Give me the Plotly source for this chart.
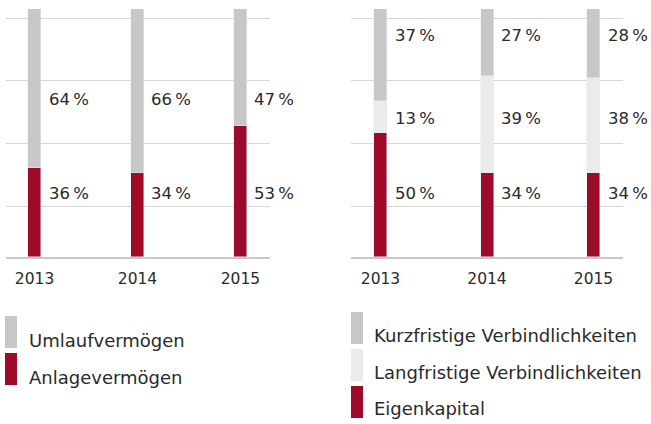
import plotly.graph_objects as go

W, H = 651, 424

years = ["2013", "2014", "2015"]

# Left panel (Aktiva)
anlage = [36, 34, 53]
umlauf = [64, 66, 47]
left_names = ["Umlaufvermögen", "Anlagevermögen"]

# Right panel (Passiva)
eigen = [50, 34, 34]
lang = [13, 39, 38]
kurz = [37, 27, 28]
right_names = ["Kurzfristige Verbindlichkeiten", "Langfristige Verbindlichkeiten", "Eigenkapital"]

RED = "#9E0A29"
GRAY = "#C6C7C6"
LIGHT = "#EBEBEB"
TXT = "#2a2a2a"
FONT = "DejaVu Sans"

fig = go.Figure()

# left bars
fig.add_trace(go.Bar(x=years, y=anlage, marker_color=RED, width=0.126, xaxis="x", yaxis="y", hoverinfo="skip"))
fig.add_trace(go.Bar(x=years, y=umlauf, marker_color=GRAY, width=0.126, xaxis="x", yaxis="y", hoverinfo="skip"))
# right bars
fig.add_trace(go.Bar(x=years, y=eigen, marker_color=RED, width=0.122, xaxis="x2", yaxis="y2", hoverinfo="skip"))
fig.add_trace(go.Bar(x=years, y=lang, marker_color=LIGHT, width=0.122, xaxis="x2", yaxis="y2", hoverinfo="skip"))
fig.add_trace(go.Bar(x=years, y=kurz, marker_color=GRAY, width=0.122, xaxis="x2", yaxis="y2", hoverinfo="skip"))

annotations = []
def add_labels(values, yrow, xref, yref):
    for i, v in enumerate(values):
        annotations.append(dict(
            x=i, y=yrow, xref=xref, yref=yref, text=f"{v}\u2009%",
            showarrow=False, xanchor="left", yanchor="middle", xshift=12,
            font=dict(family=FONT, size=16.5, color=TXT)))

add_labels(umlauf, 63.7, "x", "y")
add_labels(anlage, 25.8, "x", "y")
add_labels(kurz, 89.5, "x2", "y2")
add_labels(lang, 56.0, "x2", "y2")
add_labels(eigen, 25.8, "x2", "y2")

# custom legends
shapes = []
def legend_item(name, color, x0, y0, y1, tx, ty):
    shapes.append(dict(type="rect", xref="paper", yref="paper",
                       x0=x0 / W, x1=(x0 + 12) / W, y0=1 - y1 / H, y1=1 - y0 / H,
                       fillcolor=color, line=dict(width=0), layer="above"))
    annotations.append(dict(x=tx / W, y=1 - ty / H, xref="paper", yref="paper", text=name,
                            showarrow=False, xanchor="left", yanchor="middle",
                            font=dict(family=FONT, size=18, color=TXT)))

legend_item(left_names[0], GRAY, 5, 316, 348, 27, 340)
legend_item(left_names[1], RED, 5, 353, 385, 27, 377)
legend_item(right_names[0], GRAY, 351, 312, 344, 372, 335)
legend_item(right_names[1], LIGHT, 351, 349, 381, 372, 372)
legend_item(right_names[2], RED, 351, 386, 418, 372, 408)

ydom = [1 - 257 / H, 1 - 9 / H]
grid_vals = [20.2, 45.6, 71.0, 96.0]

xcommon = dict(type="category", showline=True, linecolor="#C8C8C8", linewidth=2,
               ticks="", showgrid=False, zeroline=False, ticklabelstandoff=6,
               tickfont=dict(family=FONT, size=15.5, color=TXT), fixedrange=True)
ycommon = dict(domain=ydom, range=[0, 100], tickvals=grid_vals, showticklabels=False,
               showgrid=True, gridcolor="#D6D6D6", gridwidth=1, zeroline=False, fixedrange=True)

fig.update_layout(
    width=W, height=H,
    margin=dict(l=0, r=0, t=0, b=0),
    paper_bgcolor="white", plot_bgcolor="white",
    barmode="stack", bargap=0, showlegend=False,
    xaxis=dict(domain=[6 / W, 270 / W], range=[-0.277, 2.287], anchor="y", **xcommon),
    yaxis=dict(anchor="x", **ycommon),
    xaxis2=dict(domain=[351 / W, 623 / W], range=[-0.277, 2.277], anchor="y2", **xcommon),
    yaxis2=dict(anchor="x2", **ycommon),
    annotations=annotations,
    shapes=shapes,
)

fig.write_html("out.html", config={"displayModeBar": False},
               post_script="document.body.style.margin='0';document.body.style.padding='0';")
